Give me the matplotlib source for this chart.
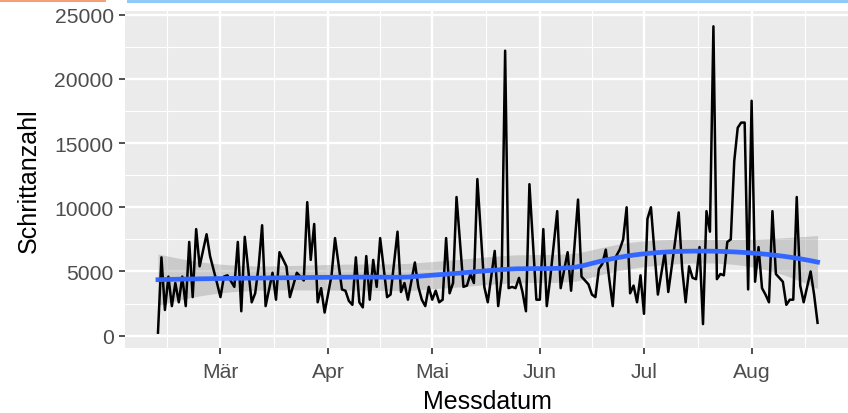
import datetime as dt
import numpy as np
import matplotlib
matplotlib.use('Agg')
import matplotlib.pyplot as plt
import matplotlib.dates as mdates
from matplotlib.patches import Rectangle

# Schrittanzahl pro Tag (Tage ab 11.02.)
start = dt.date(2021, 2, 11)
tag = [0, 1, 2, 3, 4, 5, 6, 7, 8, 9, 10, 11, 12, 14, 15, 17, 18, 19, 20, 22,
       23, 24, 25, 27, 28, 29, 30, 31, 33, 34, 35, 37, 38, 40, 41, 42, 43, 44, 45, 46,
       47, 48, 50, 51, 53, 54, 55, 56, 57, 58, 59, 60, 61, 62, 63, 64, 66, 67, 69, 70,
       71, 72, 74, 75, 76, 77, 78, 79, 80, 81, 82, 83, 84, 85, 86, 88, 89, 90, 91, 92,
       94, 95, 97, 98, 99, 100, 101, 102, 103, 104, 105, 106, 107, 109, 110, 111, 112, 113, 115, 116,
       118, 119, 121, 122, 124, 125, 126, 127, 128, 129, 130, 131, 132, 133, 134, 135, 136, 137, 138, 139,
       140, 141, 142, 144, 146, 147, 149, 150, 151, 152, 153, 154, 155, 156, 157, 158, 159, 160, 161, 162,
       163, 164, 165, 166, 167, 168, 169, 170, 171, 172, 173, 174, 175, 176, 177, 178, 180, 181, 182, 183,
       184, 185, 186, 188, 189, 190]
schritte = [230, 6100, 2000, 4600, 2300, 4100, 2600, 4600, 2300, 7300, 3000, 8300, 5400, 7900, 6200, 4100, 3000, 4600, 4700, 3800,
            7300, 1900, 7700, 2600, 3300, 5400, 8600, 2300, 4900, 2800, 6500, 5400, 3000, 4900, 4600, 4300, 10400, 5900, 8700, 2600,
            3700, 1800, 4700, 7600, 3600, 3500, 2700, 2400, 6100, 2600, 2200, 6200, 2800, 5900, 3800, 7600, 3000, 3200, 8100, 3400,
            4100, 2800, 5700, 3800, 2800, 2300, 3800, 2800, 3500, 2600, 2800, 7600, 3300, 4100, 10800, 3800, 3900, 4800, 4100, 12200,
            3800, 2600, 6600, 2300, 4500, 22200, 3700, 3800, 3700, 4500, 3400, 1900, 11800, 2800, 2800, 8300, 2300, 4500, 9700, 3700,
            6500, 3500, 10600, 4600, 4000, 3200, 3000, 5200, 5600, 6700, 4400, 2300, 6200, 6700, 7500, 10000, 3300, 3900, 2600, 4700,
            1700, 9100, 10000, 3200, 6500, 3400, 7400, 9600, 5200, 2600, 5400, 4500, 4400, 6900, 900, 9700, 8100, 24100, 4400, 4800,
            4700, 7300, 7500, 13600, 16200, 16600, 16600, 3600, 18300, 4200, 6900, 3700, 3200, 2600, 9700, 4800, 4200, 2400, 2800, 2800,
            10800, 3900, 2600, 5000, 3200, 1000]

monate = ['2021-03-01', '2021-04-01', '2021-05-01', '2021-06-01', '2021-07-01', '2021-08-01']
monat_labels = ['Mär', 'Apr', 'Mai', 'Jun', 'Jul', 'Aug']
y_ticks = [0, 5000, 10000, 15000, 20000, 25000]


def loess(x, y, x_eval, span=0.75):
    # lokale quadratische Regression mit Tricube-Gewichten (wie R loess)
    n = len(x)
    q = int(np.floor(n * span))

    def zeile(x0):
        d = np.abs(x - x0)
        h = np.sort(d)[q - 1]
        w = (1 - np.clip(d / h, 0, 1) ** 3) ** 3
        X = np.column_stack([np.ones(n), x - x0, (x - x0) ** 2])
        XtW = X.T * w
        return np.linalg.solve(XtW @ X, XtW)[0]

    L = np.array([zeile(v) for v in x])
    Le = np.array([zeile(v) for v in x_eval])
    res = y - L @ y
    IL = np.eye(n) - L
    delta1 = np.trace(IL.T @ IL)
    sigma = np.sqrt(res @ res / delta1)
    se = sigma * np.sqrt((Le ** 2).sum(axis=1))
    return Le @ y, se


x = np.array(tag, dtype=float)
y = np.array(schritte, dtype=float)
x0 = mdates.date2num(start)

xs = np.linspace(x.min(), x.max(), 80)
fit, se = loess(x, y, xs)
t = 1.973  # t-Quantil 0.975
lo, hi = fit - t * se, fit + t * se

fig = plt.figure(figsize=(8.48, 4.14), dpi=100)
ax = fig.add_axes([0.1474, 0.157, 0.8556, 0.814])
ax.set_facecolor('#EBEBEB')

ax.fill_between(x0 + xs, lo, hi, color='#999999', alpha=0.4, lw=0, zorder=2)
ax.plot(x0 + x, y, color='black', lw=1.8, zorder=3)
ax.plot(x0 + xs, fit, color='#3366FF', lw=3.4, zorder=4)

rx = x.max() - x.min()
ax.set_xlim(x0 + x.min() - 0.05 * rx, x0 + x.max() + 0.05 * rx)
ymin, ymax = min(y.min(), lo.min()), max(y.max(), hi.max())
ax.set_ylim(ymin - 0.05 * (ymax - ymin), ymax + 0.05 * (ymax - ymin))

maj = mdates.datestr2num(monate)
d = np.diff(maj)
minor = np.concatenate([[maj[0] - d[0] / 2], maj[:-1] + d / 2, [maj[-1] + d[-1] / 2]])
ax.set_xticks(maj)
ax.set_xticklabels(monat_labels)
ax.set_xticks(minor, minor=True)
ax.set_yticks(y_ticks)
ax.set_yticklabels([str(v) for v in y_ticks])
ax.set_yticks([v + 2500 for v in y_ticks[:-1]], minor=True)

ax.grid(which='major', color='white', lw=1.7)
ax.grid(which='minor', color='white', lw=0.85)
ax.set_axisbelow(True)
for s in ax.spines.values():
    s.set_visible(False)

ax.tick_params(which='major', length=4.6, width=1.2, color='#333333',
               labelcolor='#4D4D4D', labelsize=15.2)
ax.tick_params(axis='x', which='major', pad=5.5)
ax.tick_params(axis='y', which='major', pad=3.5)
ax.tick_params(which='minor', length=0)
for lab in ax.get_xticklabels() + ax.get_yticklabels():
    lab.set_family('Liberation Sans')

ax.set_xlabel('Messdatum', fontsize=18, family='Liberation Sans', labelpad=6)
ax.set_ylabel('Schrittanzahl', fontsize=18, family='Liberation Sans', labelpad=10)

# farbige Balken oben (Bildschirmrand)
fig.patches.append(Rectangle((0, 1 - 2.5 / 414), 106 / 848, 2.5 / 414,
                             transform=fig.transFigure, color='#F4A074', lw=0))
fig.patches.append(Rectangle((127 / 848, 1 - 4 / 414), 1, 4 / 414,
                             transform=fig.transFigure, color='#90CAF9', lw=0))

fig.savefig('out.png', dpi=100)
